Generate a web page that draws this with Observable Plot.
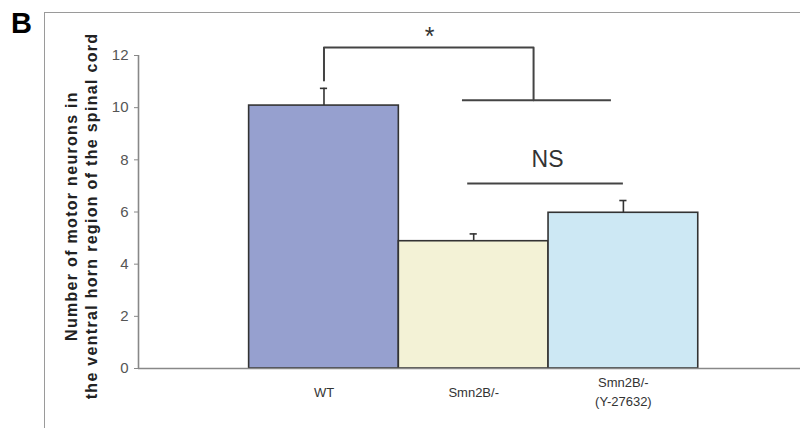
<!DOCTYPE html>
<html>
<head>
<meta charset="utf-8">
<script src="https://cdn.jsdelivr.net/npm/d3@7"></script>
<script src="https://cdn.jsdelivr.net/npm/@observablehq/plot@0.6"></script>
<style>
  html, body { margin: 0; padding: 0; background: #fff; }
  #wrap { position: relative; width: 800px; height: 428px; overflow: hidden; font-family: "Liberation Sans", Arial, sans-serif; }
  #panel { position: absolute; font: bold 29px "Liberation Sans", Arial, sans-serif; color: #000; left: 11px; top: 7px; }
  #box { position: absolute; left: 44px; top: 12px; right: -2px; bottom: -2px; border-left: 1.5px solid #9a9a9a; border-top: 1.5px solid #9a9a9a; pointer-events: none; }
</style>
</head>
<body>
<div id="wrap">
  <div id="chart"></div>
  <div id="box"></div>
  <div id="panel">B</div>
</div>
<script>
// Data
const categories = ["WT", "Smn2B/-", "Smn2B/-\n(Y-27632)"];
const means = [10.08, 4.88, 5.97];
const errors = [0.66, 0.28, 0.47];
const fills = ["#96a0cf", "#f3f2d6", "#cde8f4"];
const yTicks = [0, 2, 4, 6, 8, 10, 12];
const yLabel = "Number of motor neurons in\nthe ventral horn region of the spinal cord";

// Annotation (significance brackets), in data units
const starBracketX = [0, 0, 1.40, 1.40];
const starBracketY = [11.04, 12.31, 12.31, 10.28];
const groupLineX = [0.925, 1.92];
const groupLineY = 10.28;
const nsLineX = [0.96, 2.0];
const nsLineY = 7.09;
const starLabel = {text: "*", x: 0.705, y: 12.72};
const nsLabel = {text: "NS", x: 1.493, y: 8.0};

const xDomain = [-1.239, 3.183];
const yDomain = [0, 12];
const capHalf = 0.024;

const rows = categories.map((c, i) => ({c, i, mean: means[i], err: errors[i], fill: fills[i]}));

const chart = Plot.plot({
  width: 800,
  height: 428,
  marginLeft: 138,
  marginRight: 0,
  marginTop: 55,
  marginBottom: 60,
  style: {fontFamily: "'Liberation Sans', Arial, sans-serif", fontSize: "13px", background: "transparent"},
  x: {type: "linear", domain: xDomain, axis: null},
  y: {type: "linear", domain: yDomain},
  marks: [
    Plot.axisY({ticks: yTicks, tickSize: 4, text: null, stroke: "#888"}),
    Plot.text(yTicks, {y: d => d, text: d => String(d), frameAnchor: "left", dx: -10, textAnchor: "end", fontSize: 15, fill: "#555"}),
    Plot.rectY(rows, {x1: d => d.i - 0.5, x2: d => d.i + 0.5, y1: 0, y2: "mean", fill: "fill", stroke: "#333", strokeWidth: 1.6}),
    Plot.ruleX(rows, {x: "i", y1: "mean", y2: d => d.mean + d.err, stroke: "#333", strokeWidth: 1.6}),
    Plot.ruleY(rows, {y: d => d.mean + d.err, x1: d => d.i - capHalf, x2: d => d.i + capHalf, stroke: "#333", strokeWidth: 1.6}),
    Plot.ruleY([0], {stroke: "#888", strokeWidth: 1.6}),
    Plot.ruleX([xDomain[0]], {y1: yDomain[0], y2: yDomain[1], stroke: "#888", strokeWidth: 1.6}),
    Plot.text(rows, {x: "i", text: "c", frameAnchor: "bottom", dy: 22, lineAnchor: "middle", fontSize: 13, fill: "#333", lineHeight: 1.45}),
    Plot.text([yLabel], {frameAnchor: "left", dx: -58, dy: 4, rotate: -90, textAnchor: "middle", lineAnchor: "middle", fontSize: 16, fontWeight: "bold", fill: "#222", lineHeight: 1.25}),
    Plot.line(starBracketX.map((x, k) => ({x, y: starBracketY[k]})), {x: "x", y: "y", stroke: "#444", strokeWidth: 2}),
    Plot.ruleY([groupLineY], {x1: groupLineX[0], x2: groupLineX[1], stroke: "#444", strokeWidth: 2}),
    Plot.ruleY([nsLineY], {x1: nsLineX[0], x2: nsLineX[1], stroke: "#444", strokeWidth: 2}),
    Plot.text([starLabel], {x: "x", y: "y", text: "text", fontSize: 25, fill: "#333", lineAnchor: "middle"}),
    Plot.text([nsLabel], {x: "x", y: "y", text: "text", fontSize: 23, fill: "#333", lineAnchor: "middle"})
  ]
});
chart.querySelectorAll("text").forEach(t => {
  const s = t.textContent;
  if (s.startsWith("Number") || s.startsWith("the ventral")) t.style.letterSpacing = "1.3px";
});
document.getElementById("chart").appendChild(chart);
</script>
</body>
</html>
